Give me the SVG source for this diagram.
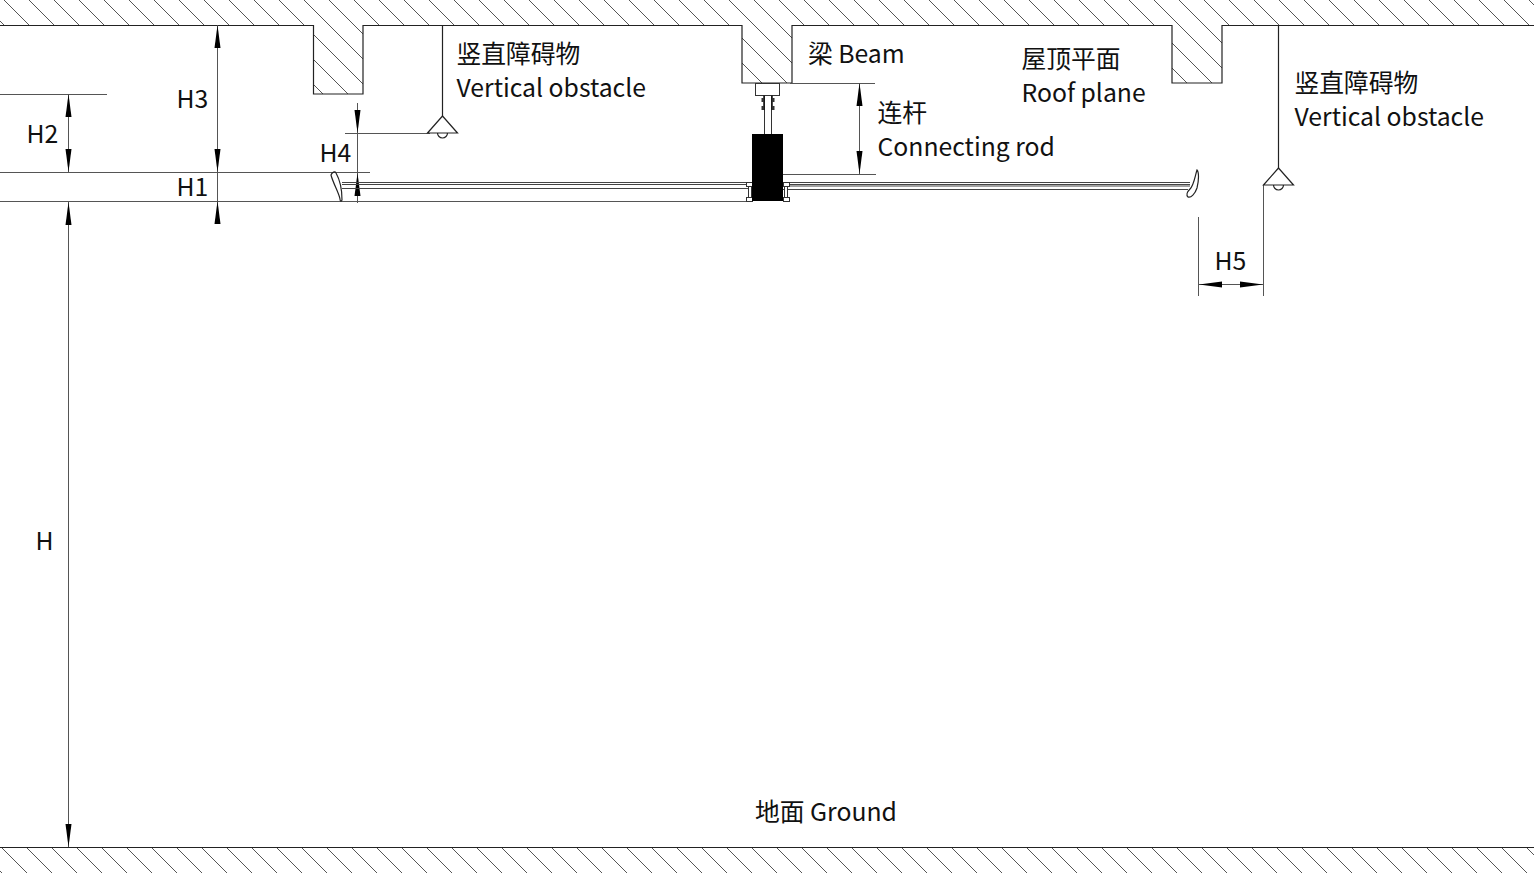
<svg xmlns="http://www.w3.org/2000/svg" width="1534" height="873" viewBox="0 0 1534 873">
<style>
text{font-family:"Noto Sans CJK SC","Noto Sans",sans-serif;font-size:24.75px;fill:#111}
.l{stroke:#555;stroke-width:1;fill:none}
.k{stroke:#222;stroke-width:1.2;fill:none}
.a{stroke:#444;stroke-width:1.1;fill:none}
.h{fill:#000}
.w{fill:#fff;stroke:#333;stroke-width:1}
</style>
<defs>
<pattern id="hatch" patternUnits="userSpaceOnUse" width="25" height="25">
<path d="M4,0L25,21M0,21L4,25" stroke="#555" stroke-width="1" fill="none"/>
</pattern>
<path id="up" d="M0,0L3,23H-3Z"/>
<path id="dn" d="M0,0L3,-23H-3Z"/>
<path id="lamp" d="M0,0L-15,17H15ZM-5,17A5,5 0 0 0 5,17"/>
</defs>
<rect width="1534" height="873" fill="#fff"/>
<g id="ceiling">
<path d="M0,0H1534V25H1222V83H1172V25H792V83H742V25H363V94H313V25H0Z" fill="url(#hatch)"/>
<path class="k" d="M0,25.5H313.5V94H363V25.5H742V83H792V25.5H1172V83H1222V25.5H1534"/>
</g>
<g id="ground">
<rect x="0" y="847" width="1534" height="26" fill="url(#hatch)"/>
<path class="k" d="M0,847.5H1534"/>
</g>
<g id="connectors">
<path class="l" d="M0,94.5H107M0,172.500H370M0,201.500H750M790,83.500H875M783,174.500H876M345,133.500H430"/>
<path class="l" d="M68.500,94V172M68.500,202V847M217.500,25V222M357.500,103V203M859.500,83V174M1198.500,217V296M1263.500,185V296M1199,284.500H1263"/>
<path class="k" d="M442.500,25V116M1278.500,25V168"/>
<g class="h">
<use href="#up" x="68.500" y="94"/><use href="#dn" x="68.500" y="172"/>
<use href="#up" x="68.500" y="202"/><use href="#dn" x="68.500" y="847"/>
<use href="#up" x="217.500" y="25"/><use href="#dn" x="217.500" y="172"/>
<use href="#up" x="217.500" y="201"/>
<use href="#dn" x="357.500" y="133"/><use href="#up" x="357.500" y="173"/>
<use href="#up" x="859.500" y="83"/><use href="#dn" x="859.500" y="174"/>
<path d="M1199,284.500L1222,281.500V287.500ZM1263,284.500L1240,281.500V287.500Z"/>
</g>
</g>
<g id="lamp-left"><use href="#lamp" x="442.500" y="116" class="k"/></g>
<g id="lamp-right"><use href="#lamp" x="1278.500" y="168" class="k"/></g>
<g id="fan">
<path class="a" d="M342,182.500H750M342,184.500H750M342,188.500H750M783,182.500H1190M783,184.500H1190M783,186H1190M783,189.500H1188"/>
<path class="k" d="M331,175C332,172 335,171 336,173C340,180 342,190 342,200C341,202 340,201 340,199C339,193 333,183 331,175Z"/>
<path class="k" d="M1197,170C1199,172 1199,180 1197,188C1195,194 1191,198 1188,197C1186,195 1187,192 1190,189C1194,185 1195,176 1197,170Z"/>
<rect class="w" x="755.500" y="83.500" width="24" height="12"/>
<rect class="w" x="764.500" y="95.500" width="7" height="39"/>
<path d="M764,95.500V110" stroke="#111" stroke-width="1.500"/>
<path d="M772,95.500V110" stroke="#111" stroke-width="1.500"/>
<path d="M761.500,98H764V102H761.500ZM761.500,106H764V110H761.500ZM772,98H774.500V102H772ZM772,106H774.500V110H772Z" fill="#333"/>
<rect class="w" x="746.500" y="182.500" width="6" height="4"/>
<rect class="w" x="746.500" y="197.500" width="6" height="4"/>
<rect class="w" x="748.500" y="186.500" width="3" height="11"/>
<rect class="w" x="783.500" y="182.500" width="6" height="4"/>
<rect class="w" x="783.500" y="197.500" width="6" height="4"/>
<rect class="w" x="784.500" y="186.500" width="3" height="11"/>
<rect x="752" y="134" width="31" height="67" fill="#000"/>
</g>
<g id="labels">
<text x="26.500" y="142.500">H2</text>
<text x="176.500" y="107.500">H3</text>
<text x="176.500" y="196">H1</text>
<text x="319.500" y="162">H4</text>
<text x="35.500" y="549.500">H</text>
<text x="1214.500" y="270">H5</text>
<text x="456.500" y="62.500">竖直障碍物</text>
<text x="456.500" y="97">Vertical obstacle</text>
<text x="808" y="63">梁 Beam</text>
<text x="1021.500" y="67.500">屋顶平面</text>
<text x="1021.500" y="101.500">Roof plane</text>
<text x="877.500" y="121.500">连杆</text>
<text x="877.500" y="156">Connecting rod</text>
<text x="1294.500" y="92">竖直障碍物</text>
<text x="1294.500" y="126">Vertical obstacle</text>
<text x="755" y="821">地面 Ground</text>
</g>
</svg>
